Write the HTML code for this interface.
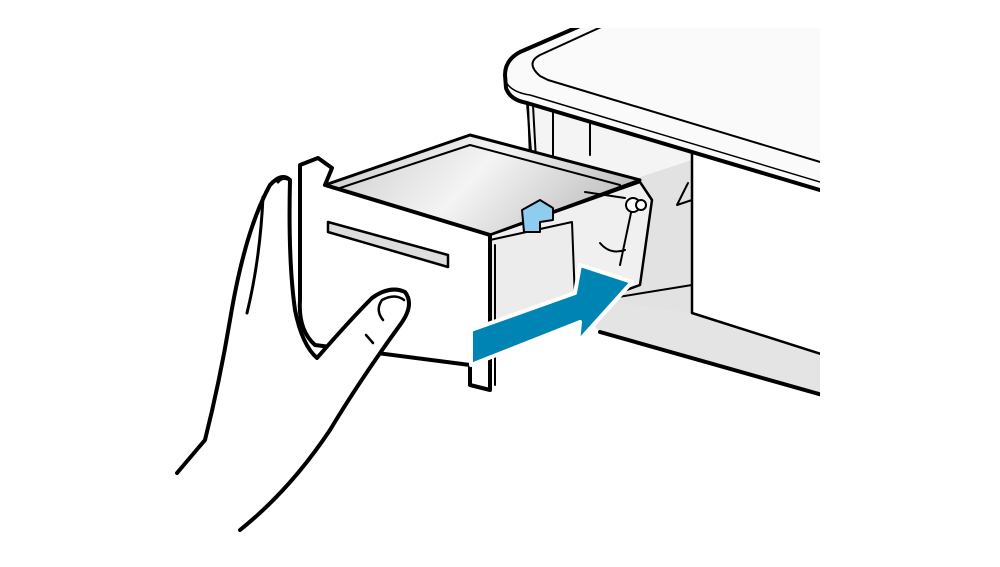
<!DOCTYPE html>
<html><head><style>html,body{margin:0;padding:0;background:#fff}svg{display:block}</style></head>
<body>
<svg width="1000" height="567" viewBox="0 0 1000 567" xmlns="http://www.w3.org/2000/svg">
<defs>
<linearGradient id="pl" x1="0" y1="0" x2="1" y2="0.3">
<stop offset="0" stop-color="#c8c8c8"/><stop offset="0.55" stop-color="#f4f4f4"/><stop offset="1" stop-color="#c4c4c4"/>
</linearGradient>
<clipPath id="cp"><rect x="0" y="28" width="820" height="540"/></clipPath>
</defs>
<g stroke="#000" stroke-linejoin="round" stroke-linecap="round" fill="none">
<g clip-path="url(#cp)">
<!-- lower gray strip under printer -->
<path d="M560,290 L840,230 L840,400 L600,332 Z" fill="#e4e4e4" stroke="none"/>
<path d="M600,332 L840,400" stroke-width="4"/>
<!-- slot interior -->
<path d="M527,103 L535,200 L692,170 L692,152 Z" fill="#f4f4f4" stroke-width="2"/>
<path d="M528,103 L530,160 M533,105 L536,160 M553,108 L553,160 M590,118 L590,155" stroke-width="2"/>
<!-- gray inner -->
<path d="M570,200 L692,160 L692,313 L600,300 L575,300 Z" fill="#e2e2e2" stroke="none"/>
<path d="M600,300 L692,285" stroke-width="2"/>
<!-- right front panel -->
<path d="M692,152 L840,196 L840,360 L692,313 Z" fill="#fff" stroke-width="2.5"/>
<!-- printer top -->
<path d="M640,0 L520,52 Q505,60 505,75 L506,88 Q510,100 527,103 L840,196 L840,0 Z" fill="#fafafa" stroke="none"/>
<path d="M640,0 L520,52 Q505,60 505,75 L506,88 Q510,100 527,103 L840,196" stroke-width="4"/>
<path d="M505,80 Q510,92 530,95 L840,188" stroke-width="1.5"/>
<path d="M660,0 L540,55 Q525,63 540,76 L548,80 L840,168" stroke-width="2"/>
</g>
<!-- tray top plate -->
<path d="M325,185 L470,135 L640,180 L490,235 Z" fill="url(#pl)" stroke-width="3"/>
<path d="M340,188 L470,145 L620,185" stroke-width="2"/>
<!-- tray side -->
<path d="M490,235 L640,182 L652,200 L640,285 L490,340 Z" fill="#f0f0f0" stroke-width="2.5"/>
<path d="M490,240 L572,222 L575,300 L490,325" fill="#ececec" stroke-width="2"/>
<!-- blue tab -->
<path d="M522,210 L540,200 L553,208 L553,220 L540,222 L540,232 L524,232 Z" fill="#8ecdf0" stroke-width="2"/>
<!-- spring -->
<path d="M585,192 L625,198 M632,208 L620,265 M600,243 Q610,255 625,250" stroke-width="2"/>
<circle cx="633" cy="205" r="7" fill="#fff" stroke-width="2"/>
<circle cx="641" cy="205" r="5" fill="#fff" stroke-width="2"/>
<path d="M688,183 L677,205 L692,200" stroke-width="2"/>
<!-- tray front -->
<path d="M300,165 L318,158 L332,168 L325,185 L490,235 L490,390 L470,385 L470,365 L315,345 Q298,330 300,300 Z" fill="#fff" stroke-width="4"/>
<path d="M328,222 L448,255 L448,267 L328,232 Z" fill="#ddd" stroke-width="2.5"/>
<path d="M495,245 L495,385" stroke-width="2"/>
<!-- arrow -->
<path d="M471,330 L575,293 L580,265 L632,282 L578,342 L580,322 L471,365 Z" fill="#0084b4" stroke="#fff" stroke-width="4"/>
<!-- hand -->
<path d="M177,473 L205,440 Q220,380 230,320 Q245,230 270,185 Q282,172 290,180 Q288,260 295,310 Q302,345 317,358 Q350,320 372,298 Q390,285 405,292 Q415,305 400,325 Q360,380 330,430 Q290,490 240,530" fill="#fff" stroke-width="4"/>
<path d="M263,197 Q260,260 247,313" stroke-width="3"/>
<path d="M278,182 Q282,176 290,180" stroke-width="3"/>
<path d="M383,320 Q375,310 382,300 Q395,293 404,300" stroke-width="2.5"/>
<path d="M366,335 L373,343" stroke-width="2.5"/>
</g>
</svg>
</body></html>
